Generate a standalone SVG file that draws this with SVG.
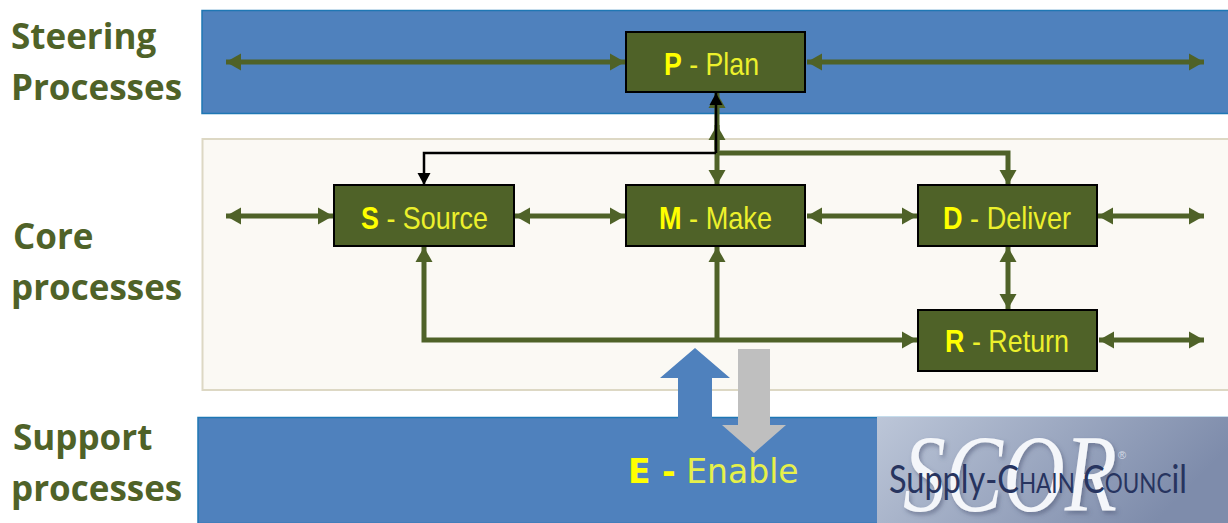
<svg xmlns="http://www.w3.org/2000/svg" width="1228" height="523" viewBox="0 0 1228 523">
<style>
.lbl{font-family:"Open Sans","Noto Sans",sans-serif;font-weight:700;font-size:35px;fill:#4f6228}
.box{fill:#4f6228;stroke:#000;stroke-width:2}
.nt{font-family:"Liberation Sans",Arial,sans-serif;font-size:32px;fill:#ecf02c}
.nt tspan{font-weight:700;fill:#ffff00}
.g{fill:none;stroke:#4f6228;stroke-width:5}
.k{fill:none;stroke:#000;stroke-width:2.5}
.sc{font-variant:small-caps}
</style>
<defs>
<marker id="ga" markerUnits="userSpaceOnUse" markerWidth="18" markerHeight="18" refX="15" refY="9" orient="auto-start-reverse"><path d="M0 0.500L15 9L0 17.500Z" fill="#4f6228"/></marker>
<marker id="ka" markerUnits="userSpaceOnUse" markerWidth="14" markerHeight="14" refX="12" refY="7" orient="auto"><path d="M0 0.500L12 7L0 13.500Z" fill="#000"/></marker>
<linearGradient id="logo" x1="0" y1="0" x2="1" y2="0.3"><stop offset="0" stop-color="#bcc6d8"/><stop offset="1" stop-color="#7e8cab"/></linearGradient>
<filter id="sh" x="-5%" y="-5%" width="110%" height="115%"><feDropShadow dx="2" dy="3" stdDeviation="2" flood-color="#46506e" flood-opacity="0.5"/></filter>
</defs>
<rect width="1228" height="523" fill="#fff"/>
<g id="bands">
<rect x="202" y="10.500" width="1027" height="103" fill="#4f81bd" stroke="#1f77b4" stroke-width="1.500"/>
<rect x="202.500" y="139" width="1027" height="251" fill="#fbf9f4" stroke="#ddd8c4" stroke-width="2"/>
<rect x="198" y="417.500" width="1031" height="106" fill="#4f81bd" stroke="#1f77b4" stroke-width="1.500"/>
</g>
<g id="labels">
<text class="lbl" x="11" y="49">Steering</text>
<text class="lbl" x="11" y="100">Processes</text>
<text class="lbl" x="13" y="249">Core</text>
<text class="lbl" x="11" y="300">processes</text>
<text class="lbl" x="13" y="450">Support</text>
<text class="lbl" x="11" y="501">processes</text>
</g>
<g id="connectors">
<path class="g" marker-start="url(#ga)" marker-end="url(#ga)" d="M226 62H625"/>
<path class="g" marker-start="url(#ga)" marker-end="url(#ga)" d="M807 62H1204"/>
<path class="g" marker-start="url(#ga)" marker-end="url(#ga)" d="M226 216H333"/>
<path class="g" marker-start="url(#ga)" marker-end="url(#ga)" d="M515 216H625"/>
<path class="g" marker-start="url(#ga)" marker-end="url(#ga)" d="M807 216H917"/>
<path class="g" marker-start="url(#ga)" marker-end="url(#ga)" d="M1098 216H1204"/>
<path class="g" marker-start="url(#ga)" marker-end="url(#ga)" d="M1099 340H1204"/>
<path class="g" marker-start="url(#ga)" marker-end="url(#ga)" d="M1008 247V309"/>
<path class="g" marker-start="url(#ga)" marker-end="url(#ga)" d="M717 93V185"/>
<path class="g" marker-end="url(#ga)" d="M717 150V125"/>
<path class="g" marker-end="url(#ga)" d="M717 153H1008V185"/>
<path class="g" marker-end="url(#ga)" d="M717 340V247"/>
<path class="g" marker-start="url(#ga)" marker-end="url(#ga)" d="M424 247V340H917"/>
<path class="k" marker-end="url(#ka)" d="M716 153V93"/>
<path class="k" marker-end="url(#ka)" d="M716 153H424V185"/>
<path d="M695 348L730 378H712V420H678V378H660Z" fill="#4f81bd"/>
<path d="M738 349H770V425H786L754 453L722 425H738Z" fill="#bfbfbf"/>
</g>
<g id="plan"><rect class="box" x="626" y="32" width="179" height="60"/><text class="nt" x="664" y="75" textLength="95" lengthAdjust="spacingAndGlyphs"><tspan>P</tspan> - Plan</text></g>
<g id="source"><rect class="box" x="334" y="185" width="180" height="61"/><text class="nt" x="361" y="229" textLength="127" lengthAdjust="spacingAndGlyphs"><tspan>S</tspan> - Source</text></g>
<g id="make"><rect class="box" x="626" y="185" width="179" height="61"/><text class="nt" x="659" y="229" textLength="113" lengthAdjust="spacingAndGlyphs"><tspan>M</tspan> - Make</text></g>
<g id="deliver"><rect class="box" x="918" y="185" width="179" height="61"/><text class="nt" x="943" y="229" textLength="128" lengthAdjust="spacingAndGlyphs"><tspan>D</tspan> - Deliver</text></g>
<g id="return"><rect class="box" x="918" y="310" width="179" height="61"/><text class="nt" x="945" y="352" textLength="124" lengthAdjust="spacingAndGlyphs"><tspan>R</tspan> - Return</text></g>
<g id="enable"><text x="628" y="483" font-family="'DejaVu Sans',Verdana,sans-serif" font-size="33" fill="#e6f04a"><tspan font-weight="700" fill="#ffff00">E -</tspan> Enable</text></g>
<g id="logo-block">
<rect x="877" y="417" width="351" height="106" fill="url(#logo)"/>
<text x="903" y="511" font-family="'Liberation Serif',serif" font-style="italic" font-size="110" textLength="214" lengthAdjust="spacingAndGlyphs" fill="#f4f6fa" filter="url(#sh)">SCOR</text>
<text x="1118" y="459" font-family="'Liberation Sans',sans-serif" font-size="11" fill="#d5dbe6">®</text>
<text x="889" y="493" font-family="Lato,'Liberation Sans',sans-serif" font-size="39" textLength="298" lengthAdjust="spacingAndGlyphs" fill="#27345f">Supply-C<tspan class="sc">hain</tspan> C<tspan class="sc">ounc</tspan>il</text>
</g>
</svg>
